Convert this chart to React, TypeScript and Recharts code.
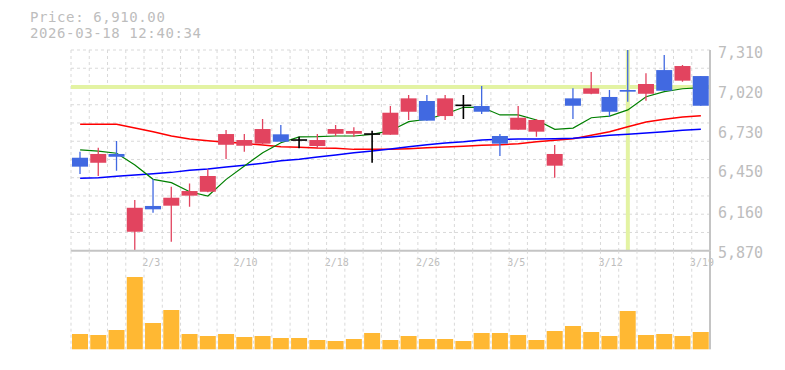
import { ComposedChart, Bar, Line, XAxis, YAxis, CartesianGrid, ReferenceLine } from 'recharts';

// 35 trading days, 1/28 .. 3/19
const dates = [
  '1/28', '1/29', '1/30', '2/2', '2/3', '2/4', '2/5', '2/6', '2/9', '2/10',
  '2/12', '2/13', '2/16', '2/17', '2/18', '2/19', '2/20', '2/24', '2/25', '2/26',
  '2/27', '3/2', '3/3', '3/4', '3/5', '3/6', '3/9', '3/10', '3/11', '3/12',
  '3/13', '3/16', '3/17', '3/18', '3/19',
];
const opens = [
  6537, 6501, 6564, 6006, 6191, 6193, 6265, 6293, 6630, 6623,
  6638, 6705, 6664, 6621, 6709, 6709, 6707, 6702, 6867, 6944,
  6836, 6913, 6908, 6693, 6738, 6724, 6480, 6963, 6996, 6973,
  7023, 6996, 7166, 7090, 7123,
];
const highs = [
  6580, 6609, 6657, 6234, 6384, 6329, 6353, 6454, 6736, 6707,
  6815, 6772, 6688, 6707, 6772, 6755, 6731, 6908, 6987, 6987,
  6987, 6987, 7052, 6707, 6908, 6815, 6628, 7035, 7152, 7023,
  7310, 7143, 7274, 7202, 7123,
];
const lows = [
  6420, 6406, 6444, 5870, 6143, 5934, 6186, 6290, 6528, 6580,
  6630, 6652, 6605, 6605, 6693, 6688, 6501, 6702, 6808, 6803,
  6808, 6815, 6851, 6549, 6738, 6688, 6394, 6815, 6992, 6831,
  6939, 6946, 7018, 7083, 6910,
];
const closes = [
  6473, 6564, 6544, 6178, 6167, 6250, 6298, 6406, 6707, 6664,
  6743, 6652, 6664, 6664, 6743, 6729, 6707, 6860, 6963, 6803,
  6963, 6913, 6867, 6638, 6824, 6808, 6564, 6910, 7035, 6867,
  7011, 7066, 7018, 7195, 6910,
];
const ma5 = [
  6593, 6585, 6569, 6485, 6382, 6358, 6293, 6262, 6382, 6478,
  6573, 6645, 6686, 6688, 6693, 6693, 6705, 6731, 6796, 6813,
  6851, 6899, 6899, 6844, 6844, 6808, 6741, 6750, 6824, 6836,
  6880, 6975, 7011, 7032, 7040,
];
const ma25 = [
  6777, 6777, 6777, 6750, 6724, 6693, 6671, 6659, 6648, 6641,
  6628, 6616, 6612, 6607, 6605, 6597, 6597, 6597, 6602, 6609,
  6614, 6619, 6626, 6630, 6638, 6652, 6662, 6674, 6698, 6724,
  6760, 6793, 6813, 6829, 6839,
];
const ma75 = [
  6389, 6394, 6404, 6413, 6422, 6432, 6447, 6456, 6471, 6483,
  6497, 6516, 6527, 6542, 6557, 6573, 6585, 6600, 6616, 6631,
  6643, 6652, 6664, 6669, 6671, 6671, 6674, 6676, 6686, 6698,
  6705, 6714, 6724, 6734, 6741,
];
const volumes = [
  153, 143, 193, 723, 263, 393, 153, 133, 153, 123,
  133, 113, 113, 93, 83, 103, 163, 93, 133, 103,
  103, 83, 163, 163, 143, 93, 183, 233, 173, 133,
  383, 143, 153, 133, 173,
];
const dateTicks = ['2/3', '2/10', '2/18', '2/26', '3/5', '3/12', '3/19'];
const priceTicks = [5870, 6160, 6450, 6730, 7020, 7310];
const crosshairDate = '3/13';
const crosshairPrice = 7045;
const lastPrice = 6910;
const stamp = '2026-03-18 12:40:34';

const W = 785;
const H = 370;
const LEFT = 71;
const AXIS_W = 75;
const PRICE_TOP = 50;
const PRICE_BOTTOM = 250.7;
const VOL_BOTTOM = 349.3;

const MONO = '"DejaVu Sans Mono", "Liberation Mono", monospace';
const UP = '#e2445f';
const DOWN = '#4169e1';
const GRID = '#d9d9d9';
const BORDER = '#c4c4c4';
const TEXT = '#bdbdbd';

const rows = dates.map((date, i) => ({
  date,
  open: opens[i],
  high: highs[i],
  low: lows[i],
  close: closes[i],
  range: [lows[i], highs[i]],
  ma5: ma5[i],
  ma25: ma25[i],
  ma75: ma75[i],
  volume: volumes[i],
}));

function Candle(props: any) {
  const { x, y, width, height, payload } = props;
  if (x == null || !payload) return <g />;
  const top = Math.min(y, y + height);
  const bottom = Math.max(y, y + height);
  const k = (bottom - top) / (payload.high - payload.low || 1);
  const py = (v: number) => top + (payload.high - v) * k;
  const cx = x + width / 2;
  const doji = payload.open === payload.close;
  const color = doji ? '#000' : payload.close > payload.open ? UP : DOWN;
  const yo = py(payload.open);
  const yc = py(payload.close);
  return (
    <g>
      <line x1={cx} x2={cx} y1={top} y2={bottom} stroke={color} strokeWidth={doji ? 1.6 : 1.3} />
      <rect
        x={x}
        y={doji ? yo - 0.8 : Math.min(yo, yc)}
        width={width}
        height={doji ? 1.6 : Math.max(Math.abs(yo - yc), 1.5)}
        fill={color}
      />
    </g>
  );
}

function DateTick({ x, y, payload }: any) {
  if (!dateTicks.includes(payload.value)) return <g />;
  return (
    <text x={x - 11} y={y + 3.5} fontSize={10} fontFamily={MONO} fill={TEXT} dominantBaseline="central">
      {payload.value}
    </text>
  );
}

function PriceTick({ x, y, payload }: any) {
  return (
    <text x={x} y={y + 2.5} fontSize={15} fontFamily={MONO} fill={TEXT} dominantBaseline="central">
      {Number(payload.value).toLocaleString('en-US')}
    </text>
  );
}

// grid lines at the band edges, independent of the axis ticks
const vLines = ({ offset }: any) => {
  const l = offset?.left ?? LEFT;
  const w = offset?.width ?? W - LEFT - AXIS_W;
  return Array.from({ length: dates.length + 1 }, (_, k) => l + (k * w) / dates.length);
};
const hLines = ({ offset }: any) => {
  const t = offset?.top ?? PRICE_TOP;
  const h = offset?.height ?? PRICE_BOTTOM - PRICE_TOP;
  return Array.from({ length: 11 }, (_, k) => t + (k * h) / 11);
};

export default function App() {
  return (
    <div style={{ position: 'fixed', left: 0, top: 0, width: W, height: H, background: '#fff' }}>
      <svg width={W} height={45} style={{ position: 'absolute', left: 0, top: 0 }}>
        <text x={30} y={22} fontSize={14} letterSpacing={0.6} fontFamily={MONO} fill={TEXT}>
          {`Price: ${lastPrice.toLocaleString('en-US', { minimumFractionDigits: 2 })}`}
        </text>
        <text x={30} y={38} fontSize={14} letterSpacing={0.6} fontFamily={MONO} fill={TEXT}>
          {stamp}
        </text>
      </svg>

      <div style={{ position: 'absolute', left: 0, top: 0 }}>
        <ComposedChart
          width={W}
          height={H}
          data={rows}
          margin={{ top: PRICE_TOP, right: 0, left: LEFT, bottom: H - PRICE_BOTTOM - 20 }}
        >
          <CartesianGrid
            stroke={GRID}
            strokeDasharray="3 3"
            verticalCoordinatesGenerator={vLines}
            horizontalCoordinatesGenerator={hLines}
          />
          <XAxis
            dataKey="date"
            height={20}
            interval={0}
            tickLine={false}
            axisLine={{ stroke: BORDER, strokeWidth: 2 }}
            tick={<DateTick />}
          />
          <YAxis
            orientation="right"
            width={AXIS_W}
            domain={[5870, 7310]}
            allowDataOverflow
            ticks={priceTicks}
            interval={0}
            tickLine={false}
            axisLine={{ stroke: BORDER, strokeWidth: 2 }}
            tick={<PriceTick />}
          />
          <ReferenceLine y={crosshairPrice} stroke="#e3f3a3" strokeWidth={4} zIndex={50} />
          <ReferenceLine x={crosshairDate} stroke="#e3f3a3" strokeWidth={4} zIndex={50} />
          <Line dataKey="ma25" stroke="#ff0000" strokeWidth={1.5} dot={false} isAnimationActive={false} />
          <Line dataKey="ma75" stroke="#0000ff" strokeWidth={1.5} dot={false} isAnimationActive={false} />
          <Line dataKey="ma5" stroke="#008000" strokeWidth={1.2} dot={false} isAnimationActive={false} />
          <Bar dataKey="range" barSize={16} shape={<Candle />} isAnimationActive={false} zIndex={450} />
        </ComposedChart>
      </div>

      <div style={{ position: 'absolute', left: 0, top: 0 }}>
        <ComposedChart
          width={W}
          height={H}
          data={rows}
          margin={{ top: PRICE_BOTTOM, right: 0, left: LEFT, bottom: H - VOL_BOTTOM }}
        >
          <CartesianGrid
            stroke={GRID}
            strokeDasharray="3 3"
            horizontal={false}
            verticalCoordinatesGenerator={vLines}
          />
          <XAxis dataKey="date" height={0} tick={false} tickLine={false} axisLine={{ stroke: BORDER, strokeWidth: 2 }} />
          <YAxis
            orientation="right"
            width={AXIS_W}
            domain={[0, 986]}
            tick={false}
            tickLine={false}
            axisLine={{ stroke: BORDER, strokeWidth: 2 }}
          />
          <Bar dataKey="volume" barSize={16} fill="#ffb833" isAnimationActive={false} />
        </ComposedChart>
      </div>
    </div>
  );
}
